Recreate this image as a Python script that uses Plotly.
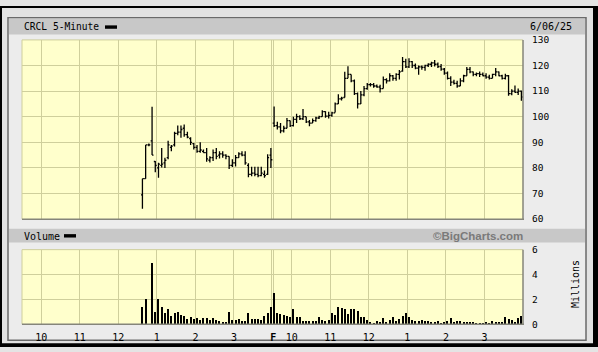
import plotly.graph_objects as go

W, H = 598, 352

# ---------------- data ----------------
ticker_title = "CRCL 5-Minute"
date_label = "6/06/25"

# day 1 (Thursday) first 5-minute bar starts at 12:35
d1_start = "12:35"
d1_open = [69.5, 75.8, 89.0, 90.6, 82.5, 80.0, 81.0, 82.0, 84.0, 88.0, 89.0, 93.5, 94.0, 95.5, 93.0,
           91.5, 89.5, 88.0, 86.5, 86.5, 86.0, 83.0, 84.0, 86.0, 85.0, 85.5, 85.0, 84.5, 81.0, 82.0,
           84.0, 85.5, 85.0, 81.0, 77.5, 78.0, 77.5, 77.0, 77.5, 77.5, 85.0]
d1_high = [75.8, 89.0, 89.5, 103.9, 82.7, 82.0, 87.8, 84.0, 90.6, 89.0, 94.1, 96.6, 96.6, 97.0, 94.1,
           92.0, 89.7, 89.0, 90.0, 87.2, 87.8, 84.6, 87.2, 87.8, 86.5, 86.5, 85.3, 84.6, 83.4, 85.0,
           86.1, 86.5, 86.5, 81.8, 80.5, 80.5, 80.5, 80.5, 79.0, 85.3, 87.8]
d1_low = [64.1, 75.8, 88.5, 85.0, 78.3, 76.2, 80.2, 80.0, 83.4, 86.5, 88.4, 92.8, 91.8, 92.2, 91.6,
          89.0, 87.2, 85.9, 85.9, 85.9, 82.4, 82.1, 82.7, 83.4, 83.7, 84.0, 83.4, 79.6, 80.4, 80.6,
          84.0, 84.6, 81.2, 76.4, 76.7, 76.7, 76.4, 76.7, 76.2, 77.2, 80.0]
d1_close = [75.8, 89.0, 89.0, 85.0, 81.0, 81.5, 81.5, 83.0, 89.0, 88.5, 93.5, 94.0, 95.0, 93.0, 92.0,
            90.0, 88.0, 86.5, 87.0, 86.0, 83.5, 84.0, 86.0, 84.5, 85.5, 85.0, 84.5, 81.0, 82.0, 84.0,
            85.5, 85.0, 82.0, 77.5, 78.0, 77.5, 77.0, 78.0, 77.0, 84.0, 83.2]
d1_vol = [1.39, 2.09, 0.0, 4.92, 1.05, 2.09, 1.39, 0.92, 1.23, 0.73, 0.97, 1.05, 0.76, 0.71, 0.45,
          0.58, 0.45, 0.50, 0.37, 0.52, 0.50, 0.37, 0.50, 0.34, 0.29, 0.18, 0.18, 1.05, 0.34, 0.34,
          0.42, 0.29, 0.29, 0.97, 0.42, 0.42, 0.42, 0.37, 0.73, 0.94, 1.44]

# day 2 (Friday) starts at 9:30
d2_start = "9:30"
d2_open = [97.5, 96.5, 96.0, 94.5, 95.5, 98.5, 96.5, 99.0, 100.0, 99.2, 100.0, 98.0,
           97.5, 98.5, 99.5, 100.0, 102.0, 100.2, 100.5, 101.5, 105.0, 107.0, 107.5, 115.0,
           116.5, 114.0, 109.0, 105.0, 108.5, 111.0, 112.5, 112.5, 112.0, 111.6, 111.0, 114.5,
           114.0, 116.0, 115.0, 116.5, 117.8, 121.5, 119.5, 121.5, 120.0, 119.0, 119.5, 119.3,
           120.0, 120.5, 121.0, 120.5, 119.6, 118.6, 117.0, 115.0, 113.5, 113.0, 112.0, 114.0,
           116.0, 118.5, 117.5, 116.5, 116.8, 116.5, 116.0, 115.5, 115.0, 116.5, 117.5, 116.0,
           115.0, 116.0, 109.0, 110.0, 109.5, 110.0]
d2_high = [104.0, 98.0, 97.5, 96.5, 99.5, 98.5, 100.0, 101.2, 100.6, 103.0, 100.0, 98.7,
           99.3, 100.0, 100.4, 102.5, 102.1, 101.9, 101.9, 105.6, 108.8, 107.8, 117.6, 119.7,
           116.5, 114.5, 109.5, 110.0, 112.0, 113.2, 113.2, 113.2, 112.6, 112.5, 115.7, 115.0,
           117.0, 116.3, 117.0, 118.2, 123.3, 122.6, 122.8, 121.8, 120.8, 120.0, 120.0, 120.3,
           120.9, 121.5, 122.2, 121.2, 120.6, 119.0, 117.7, 115.8, 114.4, 114.0, 115.0, 116.4,
           119.4, 119.4, 117.7, 117.3, 117.7, 117.3, 117.0, 116.4, 116.8, 119.0, 117.7, 116.4,
           116.8, 116.3, 110.7, 112.2, 111.0, 110.2]
d2_low = [96.0, 95.0, 93.5, 93.8, 95.5, 96.0, 96.2, 97.5, 98.7, 98.7, 97.5, 96.3,
          97.5, 98.0, 99.1, 100.0, 99.6, 99.3, 100.0, 101.6, 105.0, 106.3, 107.5, 115.0,
          113.5, 108.5, 103.2, 105.0, 108.0, 110.5, 111.8, 111.3, 111.3, 109.5, 111.0, 113.0,
          113.8, 114.0, 114.0, 114.5, 117.6, 119.0, 119.0, 119.0, 118.5, 116.4, 118.3, 118.0,
          119.4, 119.4, 119.6, 119.0, 118.0, 116.4, 114.5, 112.0, 112.6, 111.3, 112.0, 113.5,
          116.0, 117.0, 115.8, 115.8, 115.5, 115.8, 114.8, 114.5, 115.0, 115.8, 115.8, 114.5,
          114.5, 108.2, 108.4, 109.4, 108.5, 106.2]
d2_close = [96.5, 96.0, 94.5, 95.5, 98.5, 96.5, 99.0, 100.0, 99.2, 100.0, 98.0, 97.5,
            98.5, 99.5, 100.0, 102.0, 100.2, 100.5, 101.5, 105.0, 107.0, 107.3, 115.0, 116.5,
            114.0, 109.0, 105.0, 108.5, 111.0, 112.5, 112.5, 112.0, 111.6, 111.0, 114.5, 114.0,
            116.0, 115.0, 116.5, 117.5, 121.5, 119.5, 121.5, 120.0, 119.0, 119.5, 119.3, 120.0,
            120.5, 121.0, 120.5, 119.6, 118.6, 117.0, 115.0, 113.5, 113.0, 112.0, 114.0, 116.0,
            118.5, 117.5, 116.5, 116.8, 116.5, 116.0, 115.5, 115.0, 116.5, 117.5, 116.0, 115.0,
            116.0, 109.0, 110.0, 109.5, 110.0, 107.7]
d2_vol = [2.54, 0.97, 0.86, 0.76, 0.73, 0.58, 1.28, 0.58, 0.65, 0.31,
          0.31, 0.31, 0.26, 0.31, 0.58, 0.37, 0.31, 0.39, 0.92, 0.76,
          1.39, 1.31, 1.28, 0.84, 1.28, 1.28, 1.10, 0.65, 0.65, 0.39,
          0.18, 0.13, 0.31, 0.18, 0.55, 0.24, 0.34, 0.58, 0.29, 0.45,
          0.71, 0.97, 0.65, 0.39, 0.31, 0.29, 0.34, 0.26, 0.31, 0.18,
          0.18, 0.26, 0.13, 0.24, 0.31, 0.50, 0.18, 0.31, 0.29, 0.24,
          0.24, 0.18, 0.18, 0.13, 0.13, 0.08, 0.18, 0.13, 0.29, 0.24,
          0.18, 0.18, 0.58, 0.45, 0.39, 0.18, 0.50, 0.73]

hour_values = [10, 11, 12, 13, 14, 15]
hour_labels = ["10", "11", "12", "1", "2", "3"]
day2_label = "F"
price_ticks = [60, 70, 80, 90, 100, 110, 120, 130]
vol_ticks = [0, 2, 4, 6]

# ---------------- helpers ----------------
BARS_PER_DAY = 78  # 9:30-16:00, 5-minute bars


def slot_of(hhmm, day):
    h, m = map(int, hhmm.split(":"))
    return day * BARS_PER_DAY + ((h * 60 + m) - (9 * 60 + 30)) / 5.0


def px(x):
    return x / W


def py(y):
    return 1 - y / H


s1 = slot_of(d1_start, 0)
s2 = slot_of(d2_start, 1)
x1 = [s1 + i + 0.5 for i in range(len(d1_open))]
x2 = [s2 + i + 0.5 for i in range(len(d2_open))]
xs = x1 + x2
opens = d1_open + d2_open
highs = d1_high + d2_high
lows = d1_low + d2_low
closes = d1_close + d2_close
vols = d1_vol + d2_vol

tickvals, ticktext = [], []
for day in (0, 1):
    for hv, hl in zip(hour_values, hour_labels):
        tickvals.append(day * BARS_PER_DAY + (hv - 9.5) * 12)
        ticktext.append(hl)
tickvals += [BARS_PER_DAY - 0.25, BARS_PER_DAY + 0.25]
ticktext += ["", "<b>" + day2_label + "</b>"]

MONO = "DejaVu Sans Mono"
GRID = "#cfcf9c"
PLOTBG = "#ffffcc"

fig = go.Figure()
fig.add_trace(go.Ohlc(
    x=xs, open=opens, high=highs, low=lows, close=closes,
    increasing=dict(line=dict(color="black", width=1.3)),
    decreasing=dict(line=dict(color="black", width=1.3)),
    tickwidth=0.45, xaxis="x", yaxis="y", showlegend=False, hoverinfo="skip"))
fig.add_trace(go.Bar(
    x=xs, y=vols, width=0.34, marker=dict(color="black", line=dict(width=0)),
    xaxis="x2", yaxis="y2", showlegend=False, hoverinfo="skip"))

PL, PR = 22, 523
P_TOP, P_BOT = 35, 220
V_TOP, V_BOT = 251.5, 328.5

common_x = dict(range=[0, 2 * BARS_PER_DAY], tickvals=tickvals, ticktext=ticktext,
                showgrid=True, gridcolor=GRID, gridwidth=1, zeroline=False,
                showline=False, ticks="", fixedrange=True,
                domain=[px(PL), px(PR)])
fig.update_layout(
    width=W, height=H, margin=dict(l=0, r=0, t=0, b=0),
    paper_bgcolor="#e4e4e4", plot_bgcolor="rgba(0,0,0,0)",
    bargap=0,
    xaxis=dict(common_x, anchor="y", showticklabels=False,
               rangeslider=dict(visible=False)),
    xaxis2=dict(common_x, anchor="y2", showticklabels=True,
                tickfont=dict(family=MONO, size=10, color="black"),
                ticklabelstandoff=6),
    yaxis=dict(domain=[py(P_BOT), py(P_TOP)], range=[60, 130], side="right",
               tickvals=price_ticks, showgrid=True, gridcolor=GRID, zeroline=False,
               ticks="", tickfont=dict(family=MONO, size=9.5, color="black"),
               ticklabelstandoff=8, anchor="x", fixedrange=True),
    yaxis2=dict(domain=[py(V_BOT), py(V_TOP)], range=[0, 6], side="right",
                tickvals=vol_ticks, showgrid=True, gridcolor=GRID, zeroline=False,
                ticks="", tickfont=dict(family=MONO, size=9.5, color="black"),
                ticklabelstandoff=8, anchor="x2", fixedrange=True),
)


def rect(x0, y0, x1_, y1_, fill, line_color=None, lw=0, layer="below"):
    fig.add_shape(type="rect", xref="paper", yref="paper",
                  x0=px(x0), x1=px(x1_), y0=py(y0), y1=py(y1_),
                  fillcolor=fill, line=dict(color=line_color or fill, width=lw),
                  layer=layer)


def hline(x0, x1_, y, color, lw=1, layer="above"):
    fig.add_shape(type="line", xref="paper", yref="paper", x0=px(x0), x1=px(x1_),
                  y0=py(y), y1=py(y), line=dict(color=color, width=lw), layer=layer)


def vline(x, y0, y1_, color, lw=1, layer="above"):
    fig.add_shape(type="line", xref="paper", yref="paper", x0=px(x), x1=px(x),
                  y0=py(y0), y1=py(y1_), line=dict(color=color, width=lw), layer=layer)


# outer black frame and gray body
rect(0, 0, W, H, "black")
rect(2, 2, 593, 348, "#e2e2e2")
# inner panel
rect(8, 12, 586, 345, "#ececec", "#6a6a6a", 1.5)
# header bars
rect(9, 13, 585, 29.5, "#c8c8c8")
rect(9, 230, 585, 244, "#c8c8c8")
# plot backgrounds
rect(PL, P_TOP, PR, P_BOT, PLOTBG)
rect(PL, V_TOP, PR, V_BOT, PLOTBG)
# plot frame: light top/left, dark bottom/right
for top, bot in ((P_TOP, P_BOT), (V_TOP, V_BOT)):
    hline(PL, PR, top, GRID, 1)
    vline(PL, top, bot, GRID, 1)
    hline(PL, PR + 1, bot, "#85857a", 1.5)
    vline(PR, top, bot, "#85857a", 1.5)
# legend dashes
rect(105, 20, 117, 23.5, "black", layer="above")
rect(64, 235.5, 76, 239, "black", layer="above")

fig.add_annotation(x=px(22), y=py(21.5), xref="paper", yref="paper", text=ticker_title,
                   showarrow=False, xanchor="left", yanchor="middle",
                   font=dict(family=MONO, size=9.6, color="black"))
fig.add_annotation(x=px(574), y=py(21.5), xref="paper", yref="paper", text=date_label,
                   showarrow=False, xanchor="right", yanchor="middle",
                   font=dict(family=MONO, size=10, color="black"))
fig.add_annotation(x=px(22), y=py(237.5), xref="paper", yref="paper", text="Volume",
                   showarrow=False, xanchor="left", yanchor="middle",
                   font=dict(family=MONO, size=10, color="black"))
fig.add_annotation(x=px(525), y=py(237), xref="paper", yref="paper", text="©BigCharts.com",
                   showarrow=False, xanchor="right", yanchor="middle",
                   font=dict(family="Liberation Sans", size=11.5, color="#7a7a7a", weight="bold"))
fig.add_annotation(x=px(575), y=py(287), xref="paper", yref="paper", text="Millions",
                   showarrow=False, xanchor="center", yanchor="middle", textangle=-90,
                   font=dict(family=MONO, size=10, color="black"))

fig.write_html("out.html")
